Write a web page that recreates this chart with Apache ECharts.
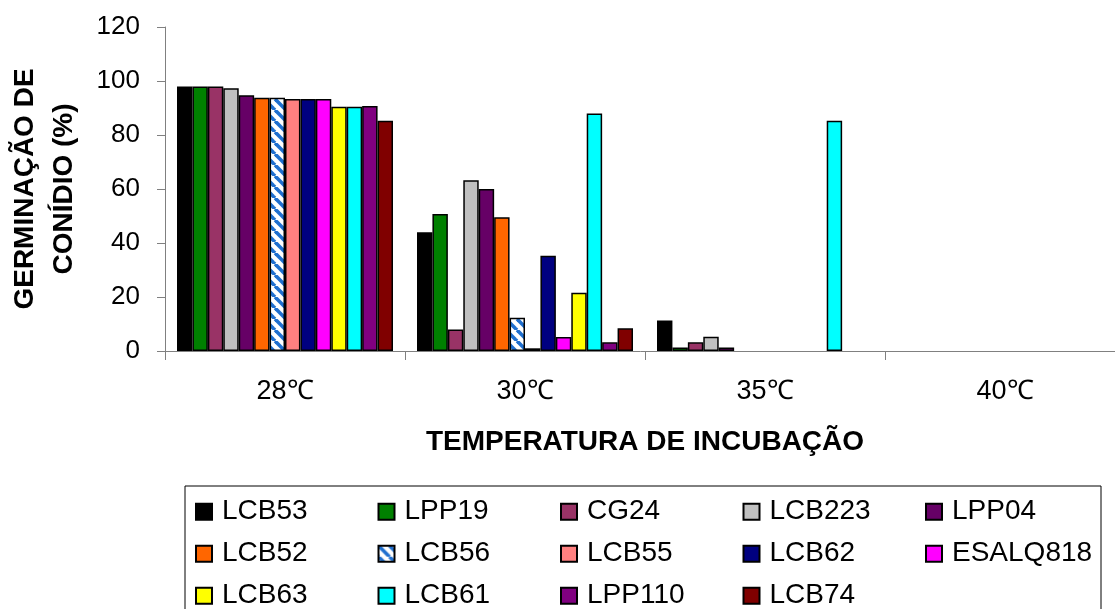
<!DOCTYPE html>
<html>
<head>
<meta charset="utf-8">
<title>Germinação de conídio</title>
<script src="https://cdn.jsdelivr.net/npm/echarts@6/dist/echarts.min.js"></script>
<style>
  html, body { margin: 0; padding: 0; background: #fff; }
  #chart { width: 1115px; height: 609px; }
</style>
</head>
<body>
<div id="chart"></div>
<script>
// Incubation temperatures (categories on the x axis)
const temperatures = ['28℃', '30℃', '35℃', '40℃'];

// Isolates, in legend / bar order
const isolates = ['LCB53', 'LPP19', 'CG24', 'LCB223', 'LPP04', 'LCB52', 'LCB56',
                  'LCB55', 'LCB62', 'ESALQ818', 'LCB63', 'LCB61', 'LPP110', 'LCB74'];

// Conidial germination (%) per isolate at each temperature
const germ28 = [98, 98, 98, 97.3, 94.7, 93.8, 93.8, 93.3, 93.3, 93.3, 90.5, 90.5, 90.7, 85.3];
const germ30 = [44, 50.7, 8, 63.2, 60, 49.5, 12.3, 1, 35.3, 5.2, 21.6, 88, 3.2, 8.4];
const germ35 = [11.3, 1.3, 3.2, 5.3, 1.3, 0, 0, 0, 0, 0, 0, 85.3, 0, 0];
const germ40 = [0, 0, 0, 0, 0, 0, 0, 0, 0, 0, 0, 0, 0, 0];

// Y axis range and step
const yMin = 0, yMax = 120, yStep = 20;

// Diagonal blue-stripe fill used for LCB56
function stripePattern() {
  const p = 11;
  const c = document.createElement('canvas');
  c.width = p; c.height = p;
  const ctx = c.getContext('2d');
  ctx.fillStyle = '#ffffff';
  ctx.fillRect(0, 0, p, p);
  ctx.strokeStyle = '#1f6fcf';
  ctx.lineWidth = 3.6;
  for (let k = -1; k <= 1; k++) {
    ctx.beginPath();
    ctx.moveTo(k * p, 0);
    ctx.lineTo(k * p + p, p);
    ctx.stroke();
  }
  return { image: c, repeat: 'repeat' };
}

const fills = ['#000000', '#008000', '#993366', '#c0c0c0', '#660066', '#ff6600', stripePattern(),
               '#ff8080', '#000080', '#ff00ff', '#ffff00', '#00ffff', '#800080', '#800000'];

const FONT = "'Liberation Sans', Arial, Helvetica, sans-serif";
const byTemp = [germ28, germ30, germ35, germ40];

const series = isolates.map((name, i) => ({
  name: name,
  type: 'bar',
  barGap: '0%',
  barCategoryGap: '10%',
  // a 0 % reading leaves no bar
  data: byTemp.map(arr => (arr[i] === 0 ? '-' : arr[i])),
  itemStyle: { color: fills[i], borderColor: '#000', borderWidth: 1.5 },
  emphasis: { disabled: true }
}));

const chart = echarts.init(document.getElementById('chart'), null, { renderer: 'canvas' });
chart.setOption({
  animation: false,
  backgroundColor: '#ffffff',
  textStyle: { fontFamily: FONT, color: '#000' },
  // the plot area runs a little past the right edge of the canvas
  grid: { left: 165, top: 27, width: 960, height: 324, containLabel: false, outerBoundsMode: 'none' },
  xAxis: {
    type: 'category',
    data: temperatures,
    axisLine: { show: true, lineStyle: { color: '#808080', width: 1 } },
    axisTick: { show: true, length: 9, lineStyle: { color: '#808080' } },
    axisLabel: { color: '#000', fontSize: 27, fontFamily: FONT, margin: 29, lineHeight: 24 },
    name: 'TEMPERATURA DE INCUBAÇÃO',
    nameLocation: 'middle',
    nameGap: 91,
    nameTextStyle: { color: '#000', fontSize: 28, fontWeight: 'bold', fontFamily: FONT,
                     verticalAlign: 'middle', align: 'center' }
  },
  yAxis: {
    type: 'value',
    min: yMin, max: yMax, interval: yStep,
    axisLine: { show: true, lineStyle: { color: '#808080', width: 1 } },
    axisTick: { show: true, length: 8, lineStyle: { color: '#808080' } },
    splitLine: { show: false },
    axisLabel: { color: '#000', fontSize: 26, fontFamily: FONT, margin: 25 },
    name: 'GERMINAÇÃO DE\nCONÍDIO (%)',
    nameLocation: 'middle',
    nameRotate: 90,
    nameGap: 120,
    nameTextStyle: { color: '#000', fontSize: 28, fontWeight: 'bold', fontFamily: FONT,
                     lineHeight: 39, align: 'center', verticalAlign: 'middle' }
  },
  legend: {
    data: isolates,
    orient: 'horizontal',
    left: 185,
    top: 486,
    width: 935,
    padding: [10, 4, 8, 10],
    itemWidth: 16,
    itemHeight: 16,
    itemGap: 10.5,
    icon: 'rect',
    borderColor: '#000',
    borderWidth: 1,
    selectedMode: false,
    textStyle: { color: '#000', fontSize: 28, fontFamily: FONT, width: 145,
                 lineHeight: 31.5, padding: [0, 0, 0, 5] }
  },
  series: series
});
</script>
</body>
</html>
